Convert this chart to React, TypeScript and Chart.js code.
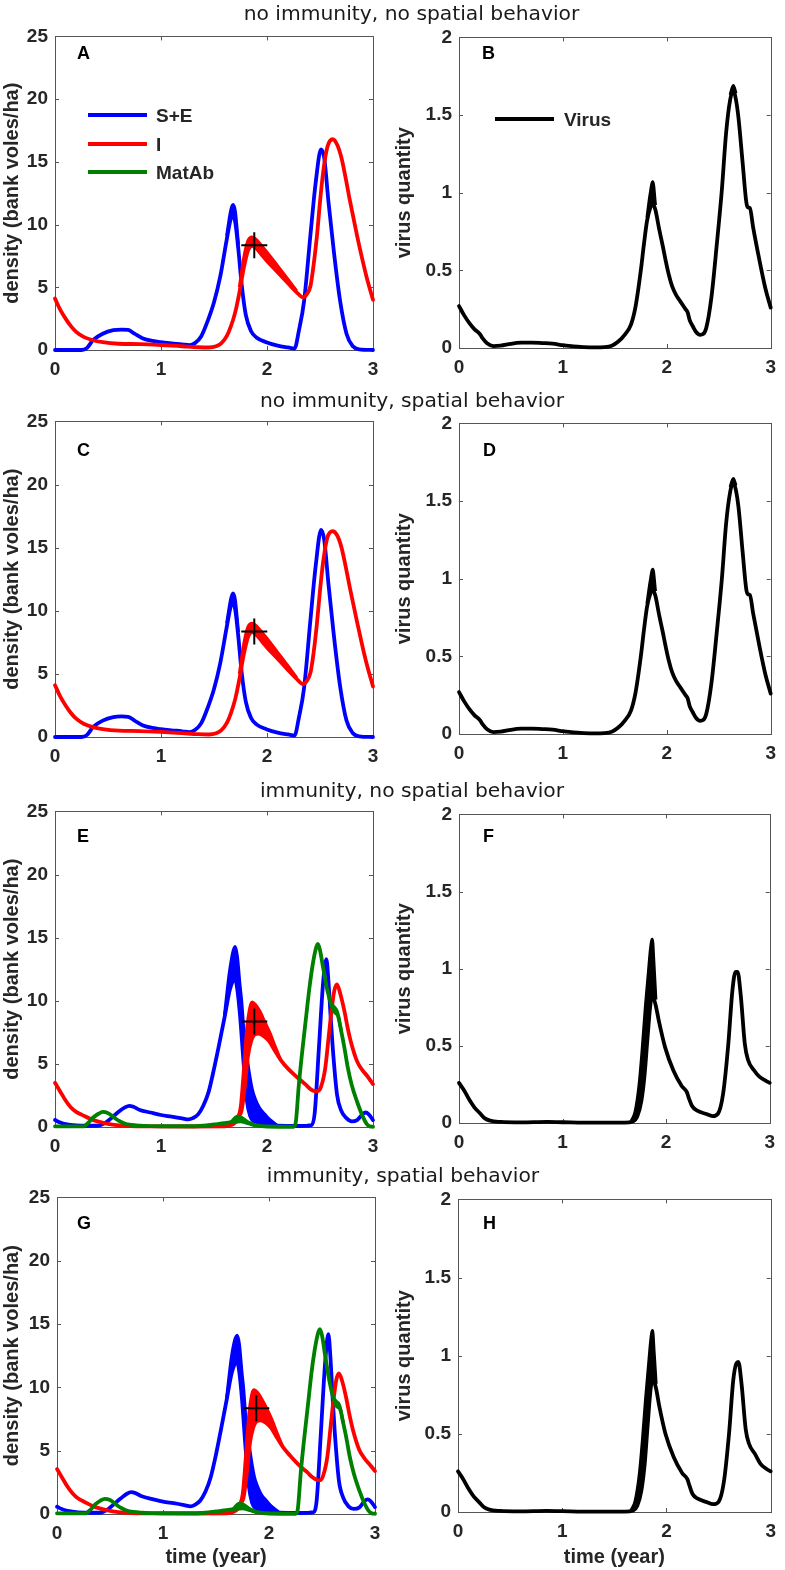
import React, { useEffect, useRef } from "react";
import { Chart, registerables } from "chart.js";

Chart.register(...registerables);

// ---------------- tick labels / texts ----------------
const X_TICKS = [0, 1, 2, 3];
const DENSITY_TICKS = [0, 5, 10, 15, 20, 25];
const VIRUS_TICKS = [0, 0.5, 1, 1.5, 2];
const ROW_TITLES = [
  "no immunity, no spatial behavior",
  "no immunity, spatial behavior",
  "immunity, no spatial behavior",
  "immunity, spatial behavior",
];
const PANEL_LETTERS = ["A", "B", "C", "D", "E", "F", "G", "H"];
const LEGEND_DENSITY = ["S+E", "I", "MatAb"];
const LEGEND_VIRUS = ["Virus"];
const Y_TITLE_DENSITY = "density (bank voles/ha)";
const Y_TITLE_VIRUS = "virus quantity";
const X_TITLE = "time (year)";
const MARKER_T = [1.88];
const MARKER_V = [8.35];

// ---------------- panel A ----------------
const A_SE_T = [0, 0.25, 0.3, 0.36, 0.45, 0.55, 0.63, 0.69, 0.75, 0.83, 0.92, 1.0, 1.1, 1.2, 1.27, 1.32, 1.38, 1.44, 1.5, 1.56, 1.62, 1.66, 1.68, 1.7, 1.73, 1.76, 1.8, 1.85, 1.9, 2.0, 2.1, 2.2, 2.26, 2.3, 2.35, 2.41, 2.46, 2.51, 2.54, 2.58, 2.63, 2.69, 2.75, 2.81, 2.87, 3.0];
const A_SE_V = [0, 0, 0.15, 0.8, 1.3, 1.58, 1.63, 1.6, 1.3, 0.92, 0.72, 0.62, 0.53, 0.45, 0.38, 0.55, 1.1, 2.3, 3.8, 5.9, 8.8, 10.5, 10.7, 10.2, 8.0, 5.3, 2.8, 1.5, 1.0, 0.6, 0.35, 0.2, 0.12, 1.5, 3.9, 9.2, 13.4, 16.0, 15.3, 11.8, 7.9, 3.9, 1.3, 0.3, 0.05, 0];
const A_SE_BT = [1.62, 1.66, 1.68, 1.7, 1.73];
const A_SE_BV = [9.1, 11.2, 11.6, 11.1, 8.4];
const A_I_T = [0, 0.05, 0.1, 0.15, 0.2, 0.27, 0.35, 0.45, 0.6, 0.8, 1.0, 1.2, 1.35, 1.45, 1.52, 1.57, 1.62, 1.66, 1.7, 1.74, 1.78, 1.82, 1.86, 1.9, 1.95, 2.0, 2.1, 2.2, 2.28, 2.34, 2.38, 2.41, 2.44, 2.47, 2.5, 2.53, 2.57, 2.62, 2.66, 2.7, 2.74, 2.78, 2.85, 2.9, 2.94, 3.0];
const A_I_V = [4.1, 3.2, 2.5, 1.9, 1.45, 1.05, 0.8, 0.62, 0.5, 0.47, 0.4, 0.3, 0.22, 0.2, 0.3, 0.55, 1.1, 1.9, 3.0, 4.6, 6.5, 7.9, 8.3, 8.1, 7.6, 7.1, 6.2, 5.3, 4.6, 4.2, 4.5, 5.1, 6.8, 9.0, 11.8, 14.2, 16.2, 16.8, 16.4, 15.4, 13.8, 12.0, 9.1, 7.2, 5.8, 4.0];
const A_I_BT = [1.74, 1.78, 1.82, 1.86, 1.9, 1.95, 2.0, 2.1, 2.2, 2.28];
const A_I_BV = [5.0, 7.3, 8.7, 9.0, 8.8, 8.3, 7.8, 6.7, 5.6, 4.7];

// ---------------- panel C ----------------
const C_SE_V = [0, 0, 0.15, 0.8, 1.3, 1.58, 1.63, 1.6, 1.3, 0.92, 0.72, 0.62, 0.53, 0.45, 0.38, 0.55, 1.1, 2.3, 3.8, 5.9, 8.7, 10.4, 10.6, 10.1, 7.9, 5.2, 2.8, 1.5, 1.0, 0.6, 0.35, 0.2, 0.12, 1.5, 3.9, 9.3, 13.6, 16.4, 15.6, 12.1, 8.1, 4.0, 1.3, 0.3, 0.05, 0];
const C_SE_BV = [9.0, 11.0, 11.4, 10.9, 8.3];
const C_I_V = [4.1, 3.2, 2.5, 1.9, 1.45, 1.05, 0.8, 0.62, 0.5, 0.47, 0.4, 0.3, 0.22, 0.2, 0.3, 0.55, 1.1, 1.9, 3.0, 4.6, 6.5, 7.9, 8.3, 8.1, 7.6, 7.1, 6.2, 5.3, 4.6, 4.2, 4.5, 5.1, 6.7, 8.9, 11.6, 13.9, 15.8, 16.3, 16.0, 15.1, 13.6, 11.9, 9.1, 7.2, 5.8, 4.0];
const C_I_BV = [5.0, 7.3, 8.7, 9.0, 8.8, 8.3, 7.8, 6.7, 5.6, 4.7];

// ---------------- panels B / D (virus) ----------------
const B_T = [0, 0.05, 0.1, 0.15, 0.2, 0.23, 0.27, 0.33, 0.4, 0.5, 0.6, 0.7, 0.8, 0.9, 1.0, 1.1, 1.2, 1.3, 1.4, 1.47, 1.53, 1.6, 1.655, 1.7, 1.75, 1.78, 1.81, 1.84, 1.865, 1.89, 1.925, 1.96, 1.99, 2.02, 2.05, 2.09, 2.13, 2.18, 2.2, 2.22, 2.25, 2.28, 2.32, 2.35, 2.38, 2.43, 2.48, 2.53, 2.57, 2.61, 2.64, 2.665, 2.69, 2.73, 2.765, 2.78, 2.8, 2.83, 2.89, 2.95, 3.0];
const B_V = [0.27, 0.21, 0.16, 0.12, 0.09, 0.06, 0.03, 0.012, 0.015, 0.027, 0.034, 0.035, 0.032, 0.028, 0.018, 0.01, 0.006, 0.004, 0.006, 0.015, 0.04, 0.09, 0.15, 0.27, 0.5, 0.67, 0.82, 0.9, 0.93, 0.89, 0.77, 0.66, 0.56, 0.47, 0.4, 0.34, 0.3, 0.25, 0.23, 0.18, 0.14, 0.105, 0.085, 0.09, 0.13, 0.33, 0.66, 1.02, 1.38, 1.6, 1.66, 1.6, 1.48, 1.19, 0.94, 0.905, 0.9, 0.78, 0.57, 0.38, 0.26];
const B_B1_T = [1.81, 1.84, 1.865, 1.89];
const B_B1_V = [0.84, 0.99, 1.07, 0.92];
const B_B2_T = [2.61, 2.64, 2.665];
const B_B2_V = [1.63, 1.69, 1.64];
const D_V = [0.27, 0.21, 0.16, 0.12, 0.09, 0.06, 0.03, 0.012, 0.015, 0.027, 0.034, 0.035, 0.032, 0.028, 0.018, 0.01, 0.006, 0.004, 0.006, 0.015, 0.04, 0.09, 0.15, 0.27, 0.5, 0.67, 0.82, 0.9, 0.93, 0.89, 0.77, 0.66, 0.56, 0.47, 0.4, 0.34, 0.3, 0.25, 0.23, 0.18, 0.14, 0.105, 0.085, 0.09, 0.13, 0.33, 0.65, 1.0, 1.35, 1.56, 1.62, 1.57, 1.46, 1.17, 0.93, 0.9, 0.895, 0.78, 0.57, 0.38, 0.26];
const D_B1_V = [0.84, 0.98, 1.06, 0.92];
const D_B2_V = [1.59, 1.645, 1.6];

// ---------------- panel E ----------------
const E_SE_T = [0, 0.05, 0.1, 0.2, 0.3, 0.4, 0.47, 0.53, 0.6, 0.66, 0.7, 0.74, 0.8, 0.9, 1.0, 1.1, 1.2, 1.26, 1.3, 1.35, 1.4, 1.45, 1.5, 1.55, 1.6, 1.65, 1.7, 1.72, 1.745, 1.78, 1.81, 1.84, 1.88, 1.95, 2.1, 2.3, 2.42, 2.45, 2.49, 2.53, 2.56, 2.58, 2.6, 2.62, 2.66, 2.7, 2.75, 2.8, 2.85, 2.9, 2.93, 2.96, 3.0];
const E_SE_V = [0.55, 0.35, 0.22, 0.12, 0.1, 0.1, 0.3, 0.7, 1.2, 1.55, 1.68, 1.6, 1.35, 1.15, 0.95, 0.82, 0.68, 0.6, 0.7, 1.0, 1.7, 2.8, 4.6, 6.6, 8.7, 10.9, 11.7, 10.9, 8.9, 5.0, 2.1, 0.9, 0.4, 0.2, 0.1, 0.08, 0.15, 1.1, 6.3, 11.5, 13.3, 11.5, 8.8, 6.3, 2.6, 1.3, 0.7, 0.45, 0.55, 1.0, 1.15, 1.0, 0.55];
const E_SE_BT = [1.6, 1.65, 1.7, 1.72, 1.745, 1.76, 1.78, 1.82, 1.86, 1.89, 1.93, 1.98, 2.03, 2.07, 2.1];
const E_SE_BV = [8.9, 12.5, 14.3, 13.5, 11.2, 10.0, 7.8, 5.0, 3.0, 2.2, 1.5, 1.0, 0.55, 0.3, 0.1];
const E_I_T = [0, 0.05, 0.1, 0.15, 0.2, 0.26, 0.34, 0.42, 0.5, 0.58, 0.7, 0.9, 1.3, 1.6, 1.66, 1.7, 1.73, 1.76, 1.79, 1.82, 1.85, 1.88, 1.92, 1.97, 2.02, 2.07, 2.13, 2.2, 2.29, 2.36, 2.41, 2.45, 2.48, 2.51, 2.55, 2.58, 2.61, 2.635, 2.66, 2.69, 2.73, 2.76, 2.79, 2.85, 2.9, 2.94, 3.0];
const E_I_V = [3.5, 2.8, 2.1, 1.55, 1.2, 0.94, 0.62, 0.4, 0.25, 0.15, 0.08, 0.05, 0.04, 0.05, 0.15, 0.35, 0.8, 1.3, 3.2, 5.6, 6.8, 7.3, 7.4, 7.2, 6.8, 6.1, 5.3, 4.6, 3.9, 3.4, 3.0, 2.85, 2.85, 3.2, 4.7, 7.0, 9.3, 10.8, 11.3, 10.6, 9.2, 7.9, 6.8, 5.2, 4.5, 4.1, 3.4];
const E_I_BT = [1.7, 1.72, 1.75, 1.78, 1.81, 1.84, 1.86, 1.89, 1.93, 1.98, 2.03, 2.08, 2.13];
const E_I_BV = [0.35, 0.7, 1.6, 4.6, 7.8, 9.5, 9.9, 9.7, 9.2, 8.3, 7.4, 6.3, 5.3];
const E_MA_T = [0, 0.27, 0.31, 0.36, 0.41, 0.45, 0.5, 0.55, 0.6, 0.65, 0.72, 0.8, 0.9, 1.0, 1.2, 1.4, 1.5, 1.6, 1.68, 1.75, 1.82, 1.9, 2.0, 2.25, 2.27, 2.3, 2.33, 2.37, 2.4, 2.43, 2.46, 2.48, 2.5, 2.53, 2.57, 2.61, 2.64, 2.67, 2.7, 2.73, 2.76, 2.8, 2.85, 2.9, 2.94, 2.97, 3.0];
const E_MA_V = [0.05, 0.05, 0.3, 0.75, 1.05, 1.2, 1.1, 0.8, 0.5, 0.3, 0.16, 0.1, 0.07, 0.06, 0.06, 0.1, 0.2, 0.3, 0.4, 0.45, 0.3, 0.12, 0.04, 0.02, 0.3, 3.3, 5.8, 8.8, 11.0, 12.8, 14.1, 14.5, 14.0, 12.6, 10.8, 9.6, 9.1, 8.8, 7.6, 6.3, 4.8, 3.3, 2.0, 0.9, 0.25, 0.05, 0.02];
const E_MA_B1_T = [1.66, 1.72, 1.76, 1.82, 1.9];
const E_MA_B1_V = [0.38, 0.85, 0.75, 0.4, 0.12];
const E_MA_B2_T = [2.6, 2.635, 2.665, 2.7];
const E_MA_B2_V = [9.75, 9.5, 9.1, 7.6];

// ---------------- panel G ----------------
const G_SE_V = [0.57, 0.38, 0.25, 0.13, 0.1, 0.1, 0.3, 0.72, 1.22, 1.6, 1.72, 1.65, 1.4, 1.18, 0.98, 0.85, 0.7, 0.6, 0.72, 1.05, 1.75, 2.9, 4.7, 6.8, 9.0, 11.2, 12.0, 11.2, 9.1, 5.1, 2.2, 0.9, 0.4, 0.2, 0.1, 0.08, 0.15, 1.1, 6.5, 12.0, 14.2, 12.3, 9.2, 6.5, 2.6, 1.3, 0.6, 0.4, 0.5, 1.0, 1.15, 1.0, 0.55];
const G_SE_BV = [9.1, 12.6, 14.1, 13.4, 11.1, 9.9, 7.7, 5.0, 3.0, 2.2, 1.5, 1.0, 0.55, 0.3, 0.1];
const G_I_V = [3.55, 2.85, 2.15, 1.6, 1.22, 0.95, 0.62, 0.4, 0.25, 0.15, 0.08, 0.05, 0.04, 0.05, 0.15, 0.35, 0.8, 1.3, 3.2, 5.6, 6.8, 7.3, 7.4, 7.2, 6.8, 6.1, 5.3, 4.6, 3.8, 3.3, 2.9, 2.7, 2.65, 3.0, 4.5, 6.8, 9.1, 10.6, 11.1, 10.5, 9.1, 7.8, 6.7, 5.1, 4.4, 4.0, 3.4];
const G_I_BV = [0.35, 0.7, 1.6, 4.6, 7.8, 9.5, 9.8, 9.6, 9.1, 8.3, 7.4, 6.3, 5.3];
const G_MA_V = [0.05, 0.05, 0.3, 0.75, 1.05, 1.2, 1.1, 0.8, 0.5, 0.3, 0.16, 0.1, 0.07, 0.06, 0.06, 0.1, 0.2, 0.3, 0.4, 0.45, 0.3, 0.12, 0.04, 0.02, 0.3, 3.3, 5.8, 8.8, 11.1, 12.9, 14.2, 14.6, 14.1, 12.5, 10.5, 9.1, 8.5, 8.3, 7.2, 6.0, 4.6, 3.2, 1.9, 0.85, 0.25, 0.05, 0.02];
const G_MA_B2_V = [9.2, 8.9, 8.6, 7.2];

// ---------------- panels F / H (virus) ----------------
const F_T = [0, 0.05, 0.1, 0.15, 0.2, 0.25, 0.3, 0.4, 0.6, 0.85, 1.0, 1.3, 1.6, 1.68, 1.72, 1.76, 1.79, 1.82, 1.85, 1.87, 1.9, 1.93, 1.99, 2.07, 2.15, 2.2, 2.22, 2.25, 2.3, 2.38, 2.45, 2.5, 2.55, 2.6, 2.64, 2.67, 2.69, 2.72, 2.76, 2.79, 2.85, 2.9, 2.96, 3.0];
const F_V = [0.26, 0.21, 0.15, 0.1, 0.065, 0.03, 0.015, 0.007, 0.004, 0.007, 0.005, 0.002, 0.002, 0.01, 0.04, 0.14, 0.3, 0.55, 0.78, 0.82, 0.76, 0.66, 0.49, 0.34, 0.24, 0.2, 0.16, 0.11, 0.08, 0.06, 0.045, 0.06, 0.19, 0.51, 0.86, 0.98, 0.98, 0.83, 0.51, 0.41, 0.34, 0.3, 0.275, 0.26];
const F_BT = [1.66, 1.7, 1.74, 1.77, 1.8, 1.83, 1.85, 1.866, 1.88, 1.9];
const F_BV = [0.01, 0.07, 0.25, 0.48, 0.75, 0.98, 1.13, 1.19, 1.05, 0.8];
const H_V = [0.26, 0.21, 0.15, 0.1, 0.065, 0.03, 0.015, 0.007, 0.004, 0.007, 0.005, 0.002, 0.002, 0.01, 0.04, 0.14, 0.3, 0.56, 0.8, 0.85, 0.79, 0.68, 0.5, 0.35, 0.25, 0.21, 0.17, 0.115, 0.085, 0.065, 0.05, 0.065, 0.19, 0.5, 0.84, 0.95, 0.96, 0.82, 0.53, 0.44, 0.37, 0.31, 0.275, 0.26];
const H_BV = [0.01, 0.07, 0.24, 0.46, 0.72, 0.95, 1.1, 1.16, 1.03, 0.82];

// ---------------- styles ----------------
const BLUE = "#0000ff";
const RED = "#ff0000";
const GREEN = "#008000";
const BLACK = "#000000";
const TXT = "#262626";
const FRAME = "#555555";
const SANS = "'Liberation Sans', Arial, Helvetica, sans-serif";
const TITLE_SANS = "'DejaVu Sans', Verdana, sans-serif";
const LINE_W = 3.8;

type Band = { t: number[]; v: number[] };
type Ser = { color: string; t: number[]; v: number[]; bands: Band[]; order: number };
type Box = { l: number; t: number; r: number; b: number };
type Cfg = {
  box: Box;
  cLeft: number;
  padR: number;
  bottom: boolean;
  yMax: number;
  yTicks: number[];
  yTitle: string;
  series: Ser[];
  marker: boolean;
};

const toPts = (t: number[], v: number[]) => t.map((x, i) => ({ x, y: v[i] }));

const framePlugin = {
  id: "matFrame",
  beforeDatasetsDraw(chart: any) {
    const { ctx, chartArea: a, scales } = chart;
    const L = 4;
    ctx.save();
    ctx.strokeStyle = FRAME;
    ctx.lineWidth = 1;
    ctx.beginPath();
    for (const tk of scales.x.ticks) {
      const px = Math.round(scales.x.getPixelForValue(tk.value)) + 0.5;
      ctx.moveTo(px, a.bottom);
      ctx.lineTo(px, a.bottom - L);
      ctx.moveTo(px, a.top);
      ctx.lineTo(px, a.top + L);
    }
    for (const tk of scales.y.ticks) {
      const py = Math.round(scales.y.getPixelForValue(tk.value)) + 0.5;
      ctx.moveTo(a.left, py);
      ctx.lineTo(a.left + L, py);
      ctx.moveTo(a.right, py);
      ctx.lineTo(a.right - L, py);
    }
    ctx.stroke();
    ctx.strokeRect(Math.round(a.left) + 0.5, Math.round(a.top) + 0.5, Math.round(a.right - a.left), Math.round(a.bottom - a.top));
    ctx.restore();
  },
};

const PAD_T = 14;

function Panel({ cfg }: { cfg: Cfg }) {
  const ref = useRef<HTMLCanvasElement | null>(null);
  const xH = cfg.bottom ? 1570 - cfg.box.b : 30;
  const W = cfg.box.r + cfg.padR - cfg.cLeft;
  const H = cfg.box.b - cfg.box.t + PAD_T + xH;

  useEffect(() => {
    if (!ref.current) return;
    const datasets: any[] = [];
    if (cfg.marker) {
      datasets.push({
        data: toPts(MARKER_T, MARKER_V),
        showLine: false,
        pointStyle: "cross",
        pointRadius: 13,
        pointBorderWidth: 2,
        pointBorderColor: BLACK,
        borderColor: BLACK,
        order: 0,
        clip: false,
      });
    }
    for (const s of cfg.series) {
      datasets.push({
        data: toPts(s.t, s.v),
        borderColor: s.color,
        borderWidth: LINE_W,
        pointRadius: 0,
        fill: false,
        cubicInterpolationMode: "monotone",
        borderJoinStyle: "round",
        borderCapStyle: "round",
        order: s.order,
        clip: 8,
      });
      const mainIdx = datasets.length - 1;
      for (const b of s.bands) {
        datasets.push({
          data: toPts(b.t, b.v),
          borderColor: s.color,
          backgroundColor: s.color,
          borderWidth: LINE_W - 0.6,
          pointRadius: 0,
          fill: mainIdx,
          cubicInterpolationMode: "monotone",
          borderJoinStyle: "round",
          borderCapStyle: "butt",
          order: s.order,
          clip: 8,
        });
      }
    }
    const tickFont = { family: SANS, size: 19, weight: "bold" as const };
    const titleFont = { family: SANS, size: 20, weight: "bold" as const };
    const yTicks = cfg.yTicks;
    const chart = new Chart(ref.current, {
      type: "line",
      data: { datasets },
      options: {
        animation: false,
        responsive: false,
        events: [],
        layout: { padding: { top: PAD_T, right: cfg.padR, left: 0, bottom: 0 } },
        plugins: {
          legend: { display: false },
          tooltip: { enabled: false },
          title: { display: false },
        },
        scales: {
          x: {
            type: "linear",
            min: 0,
            max: 3,
            afterBuildTicks: (s: any) => {
              s.ticks = X_TICKS.map((v) => ({ value: v }));
            },
            afterFit: (s: any) => {
              s.height = xH;
            },
            grid: { display: false, drawTicks: false },
            border: { display: false },
            ticks: {
              font: tickFont,
              color: TXT,
              padding: 8,
              maxRotation: 0,
              autoSkip: false,
              callback: (v: any) => `${v}`,
            },
            title: cfg.bottom
              ? { display: true, text: X_TITLE, font: titleFont, color: TXT, padding: { top: 0, bottom: 1 } }
              : { display: false },
          },
          y: {
            type: "linear",
            min: 0,
            max: cfg.yMax,
            afterBuildTicks: (s: any) => {
              s.ticks = yTicks.map((v) => ({ value: v }));
            },
            afterFit: (s: any) => {
              s.width = cfg.box.l - cfg.cLeft;
            },
            grid: { display: false, drawTicks: false },
            border: { display: false },
            ticks: {
              font: tickFont,
              color: TXT,
              padding: 7,
              autoSkip: false,
              callback: (v: any) => `${v}`,
            },
            title: { display: true, text: cfg.yTitle, font: titleFont, color: TXT, padding: { top: 0, bottom: 0 } },
          },
        },
      } as any,
      plugins: [framePlugin as any],
    });
    return () => chart.destroy();
  }, []);

  return (
    <canvas
      ref={ref}
      width={W}
      height={H}
      style={{ position: "absolute", left: cfg.cLeft, top: cfg.box.t - PAD_T, width: W, height: H }}
    />
  );
}

const densSeries = (
  seT: number[], seV: number[], seBT: number[], seBV: number[],
  iT: number[], iV: number[], iBT: number[], iBV: number[],
  ma?: { t: number[]; v: number[]; bands: Band[] }
): Ser[] => {
  const out: Ser[] = [
    { color: BLUE, t: seT, v: seV, bands: [{ t: seBT, v: seBV }], order: 3 },
    { color: RED, t: iT, v: iV, bands: [{ t: iBT, v: iBV }], order: 2 },
  ];
  if (ma) out.push({ color: GREEN, t: ma.t, v: ma.v, bands: ma.bands, order: 1 });
  return out;
};

const PANELS: Cfg[] = [
  {
    box: { l: 55, t: 32, r: 376, b: 350 }, cLeft: 0, padR: 12, bottom: false, yMax: 25, yTicks: DENSITY_TICKS,
    yTitle: Y_TITLE_DENSITY, marker: true,
    series: densSeries(A_SE_T, A_SE_V, A_SE_BT, A_SE_BV, A_I_T, A_I_V, A_I_BT, A_I_BV),
  },
  {
    box: { l: 459, t: 33, r: 775, b: 348 }, cLeft: 392, padR: 9, bottom: false, yMax: 2, yTicks: VIRUS_TICKS,
    yTitle: Y_TITLE_VIRUS, marker: false,
    series: [{ color: BLACK, t: B_T, v: B_V, bands: [{ t: B_B1_T, v: B_B1_V }, { t: B_B2_T, v: B_B2_V }], order: 1 }],
  },
  {
    box: { l: 55, t: 417, r: 376, b: 737 }, cLeft: 0, padR: 12, bottom: false, yMax: 25, yTicks: DENSITY_TICKS,
    yTitle: Y_TITLE_DENSITY, marker: true,
    series: densSeries(A_SE_T, C_SE_V, A_SE_BT, C_SE_BV, A_I_T, C_I_V, A_I_BT, C_I_BV),
  },
  {
    box: { l: 459, t: 419, r: 775, b: 734 }, cLeft: 392, padR: 9, bottom: false, yMax: 2, yTicks: VIRUS_TICKS,
    yTitle: Y_TITLE_VIRUS, marker: false,
    series: [{ color: BLACK, t: B_T, v: D_V, bands: [{ t: B_B1_T, v: D_B1_V }, { t: B_B2_T, v: D_B2_V }], order: 1 }],
  },
  {
    box: { l: 55, t: 807, r: 376, b: 1127 }, cLeft: 0, padR: 12, bottom: false, yMax: 25, yTicks: DENSITY_TICKS,
    yTitle: Y_TITLE_DENSITY, marker: true,
    series: densSeries(E_SE_T, E_SE_V, E_SE_BT, E_SE_BV, E_I_T, E_I_V, E_I_BT, E_I_BV, {
      t: E_MA_T, v: E_MA_V, bands: [{ t: E_MA_B1_T, v: E_MA_B1_V }, { t: E_MA_B2_T, v: E_MA_B2_V }],
    }),
  },
  {
    box: { l: 459, t: 810, r: 774, b: 1123 }, cLeft: 392, padR: 9, bottom: false, yMax: 2, yTicks: VIRUS_TICKS,
    yTitle: Y_TITLE_VIRUS, marker: false,
    series: [{ color: BLACK, t: F_T, v: F_V, bands: [{ t: F_BT, v: F_BV }], order: 1 }],
  },
  {
    box: { l: 57, t: 1193, r: 379, b: 1514 }, cLeft: 0, padR: 11, bottom: true, yMax: 25, yTicks: DENSITY_TICKS,
    yTitle: Y_TITLE_DENSITY, marker: true,
    series: densSeries(E_SE_T, G_SE_V, E_SE_BT, G_SE_BV, E_I_T, G_I_V, E_I_BT, G_I_BV, {
      t: E_MA_T, v: G_MA_V, bands: [{ t: E_MA_B1_T, v: E_MA_B1_V }, { t: E_MA_B2_T, v: G_MA_B2_V }],
    }),
  },
  {
    box: { l: 458, t: 1195, r: 775, b: 1512 }, cLeft: 392, padR: 9, bottom: true, yMax: 2, yTicks: VIRUS_TICKS,
    yTitle: Y_TITLE_VIRUS, marker: false,
    series: [{ color: BLACK, t: F_T, v: H_V, bands: [{ t: F_BT, v: H_BV }], order: 1 }],
  },
];

const LETTER_POS = [
  [77, 53], [482, 53], [77, 450], [483, 450], [77, 836], [483, 836], [77, 1223], [483, 1223],
];
const ROW_TITLE_POS = [
  [411.5, 13], [412, 400], [412, 790], [403, 1175],
];

export default function App() {
  const legendRows = [
    { color: BLUE, y: 115 },
    { color: RED, y: 144 },
    { color: GREEN, y: 172 },
  ];
  return (
    <div
      style={{
        position: "absolute",
        left: 0,
        top: 0,
        width: 785,
        height: 1570,
        background: "#ffffff",
        overflow: "hidden",
      }}
    >
      {PANELS.map((cfg, i) => (
        <Panel key={i} cfg={cfg} />
      ))}
      {ROW_TITLES.map((txt, i) => (
        <div
          key={"rt" + i}
          style={{
            position: "absolute",
            left: ROW_TITLE_POS[i][0] - 300,
            width: 600,
            top: ROW_TITLE_POS[i][1] - 12,
            height: 24,
            lineHeight: "24px",
            textAlign: "center",
            fontFamily: TITLE_SANS,
            fontSize: 20.3,
            color: "#1a1a1a",
            whiteSpace: "nowrap",
          }}
        >
          {txt}
        </div>
      ))}
      {PANEL_LETTERS.map((ch, i) => (
        <div
          key={"pl" + i}
          style={{
            position: "absolute",
            left: LETTER_POS[i][0],
            top: LETTER_POS[i][1] - 11,
            height: 22,
            lineHeight: "22px",
            fontFamily: SANS,
            fontWeight: "bold",
            fontSize: 18,
            color: "#000",
          }}
        >
          {ch}
        </div>
      ))}
      {LEGEND_DENSITY.map((txt, i) => (
        <React.Fragment key={"ld" + i}>
          <div
            style={{
              position: "absolute",
              left: 88,
              width: 59,
              top: legendRows[i].y - 2,
              height: 4,
              background: legendRows[i].color,
            }}
          />
          <div
            style={{
              position: "absolute",
              left: 156,
              top: legendRows[i].y - 10,
              height: 22,
              lineHeight: "22px",
              fontFamily: SANS,
              fontWeight: "bold",
              fontSize: 19,
              color: TXT,
              whiteSpace: "nowrap",
            }}
          >
            {txt}
          </div>
        </React.Fragment>
      ))}
      {LEGEND_VIRUS.map((txt, i) => (
        <React.Fragment key={"lv" + i}>
          <div
            style={{ position: "absolute", left: 495, width: 59, top: 119 - 2, height: 4, background: BLACK }}
          />
          <div
            style={{
              position: "absolute",
              left: 564,
              top: 119 - 10,
              height: 22,
              lineHeight: "22px",
              fontFamily: SANS,
              fontWeight: "bold",
              fontSize: 19,
              color: TXT,
              whiteSpace: "nowrap",
            }}
          >
            {txt}
          </div>
        </React.Fragment>
      ))}
    </div>
  );
}
